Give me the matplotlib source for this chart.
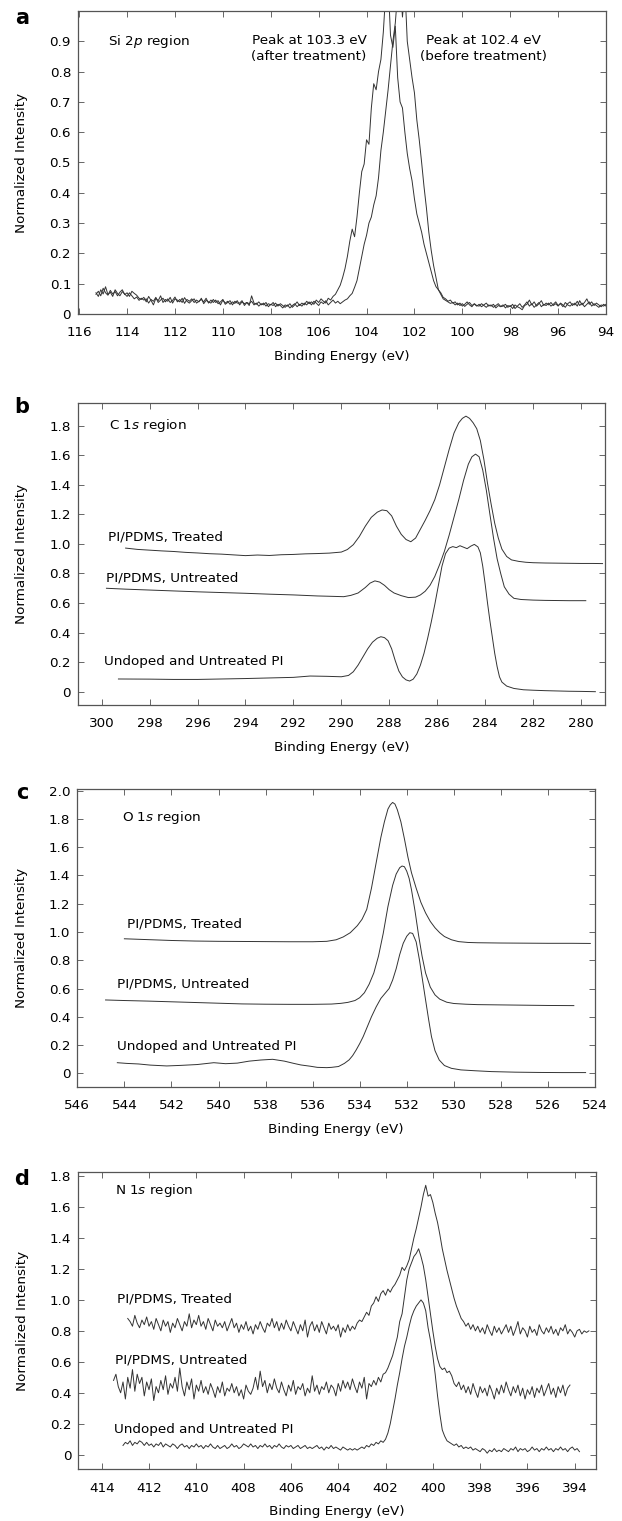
import matplotlib
matplotlib.use('Agg')
import matplotlib.pyplot as plt
import numpy as np
from matplotlib.ticker import FuncFormatter

plt.rcParams['font.family'] = ['DejaVu Sans']
plt.rcParams['mathtext.fontset'] = 'dejavusans'

# ---- (a) Si 2p, 0.1 eV step from 115.3 down to 94.0
si_start, si_stop = 115.3, 94.0
si_after = [
    0.065, 0.075, 0.060, 0.085, 0.070, 0.062, 0.078, 0.066, 0.074, 0.060,
    0.072, 0.080, 0.064, 0.070, 0.058, 0.075, 0.068, 0.062, 0.052, 0.048,
    0.055, 0.040, 0.058, 0.045, 0.030, 0.052, 0.044, 0.060, 0.038, 0.048,
    0.042, 0.055, 0.036, 0.050, 0.046, 0.040, 0.052, 0.035, 0.048, 0.042,
    0.050, 0.038, 0.046, 0.040, 0.052, 0.034, 0.045, 0.040, 0.036, 0.048,
    0.038, 0.044, 0.030, 0.046, 0.036, 0.042, 0.032, 0.040, 0.035, 0.044,
    0.030, 0.040, 0.034, 0.038, 0.028, 0.060, 0.036, 0.032, 0.040, 0.030,
    0.036, 0.026, 0.034, 0.030, 0.038, 0.024, 0.032, 0.028, 0.020, 0.030,
    0.026, 0.034, 0.022, 0.030, 0.040, 0.028, 0.036, 0.030, 0.042, 0.034,
    0.040, 0.032, 0.046, 0.038, 0.050, 0.042, 0.036, 0.052, 0.046, 0.058,
    0.065, 0.080, 0.095, 0.120, 0.150, 0.190, 0.240, 0.280, 0.255, 0.320,
    0.400, 0.470, 0.495, 0.575, 0.560, 0.680, 0.760, 0.740, 0.800, 0.840,
    0.930, 1.060, 1.100, 0.920, 0.880, 0.950, 0.780, 0.700, 0.680, 0.600,
    0.530, 0.480, 0.440, 0.380, 0.330, 0.300, 0.270, 0.230, 0.200, 0.170,
    0.140, 0.110, 0.090, 0.080, 0.065, 0.050, 0.045, 0.040, 0.035, 0.038,
    0.030, 0.036, 0.028, 0.034, 0.025, 0.032, 0.038, 0.028, 0.033, 0.026,
    0.032, 0.024, 0.030, 0.036, 0.026, 0.030, 0.022, 0.028, 0.034, 0.025,
    0.030, 0.020, 0.028, 0.024, 0.032, 0.018, 0.026, 0.034, 0.022, 0.030,
    0.040, 0.026, 0.034, 0.022, 0.030, 0.038, 0.024, 0.032, 0.028, 0.036,
    0.026, 0.032, 0.040, 0.028, 0.034, 0.024, 0.038, 0.030, 0.026, 0.034,
    0.030, 0.042, 0.028, 0.036, 0.024, 0.032, 0.040, 0.026, 0.034, 0.028,
    0.022, 0.030, 0.026, 0.032,
]
si_before = [
    0.070, 0.058, 0.080, 0.066, 0.090, 0.064, 0.072, 0.058, 0.080, 0.068,
    0.060, 0.074, 0.066, 0.058, 0.070, 0.060, 0.050, 0.056, 0.045, 0.052,
    0.046, 0.050, 0.036, 0.048, 0.042, 0.055, 0.038, 0.046, 0.052, 0.040,
    0.050, 0.038, 0.045, 0.056, 0.040, 0.048, 0.038, 0.054, 0.042, 0.036,
    0.044, 0.050, 0.036, 0.042, 0.048, 0.040, 0.052, 0.036, 0.046, 0.038,
    0.046, 0.034, 0.040, 0.048, 0.032, 0.038, 0.044, 0.030, 0.042, 0.036,
    0.036, 0.044, 0.028, 0.038, 0.034, 0.042, 0.030, 0.036, 0.026, 0.034,
    0.030, 0.038, 0.024, 0.032, 0.028, 0.036, 0.026, 0.034, 0.028, 0.022,
    0.030, 0.020, 0.028, 0.034, 0.024, 0.032, 0.026, 0.036, 0.030, 0.040,
    0.030, 0.042, 0.036, 0.028, 0.040, 0.034, 0.044, 0.030, 0.038, 0.046,
    0.036, 0.042, 0.034, 0.040, 0.046, 0.050, 0.060, 0.068, 0.088, 0.110,
    0.150, 0.190, 0.230, 0.260, 0.300, 0.320, 0.360, 0.390, 0.450, 0.540,
    0.600, 0.670, 0.740, 0.820, 0.900, 0.960, 1.060, 1.100, 0.980, 1.080,
    0.900, 0.840, 0.780, 0.730, 0.640, 0.575, 0.500, 0.420, 0.350, 0.270,
    0.210, 0.160, 0.120, 0.080, 0.070, 0.055, 0.050, 0.042, 0.046, 0.036,
    0.040, 0.030, 0.036, 0.026, 0.032, 0.040, 0.030, 0.024, 0.034, 0.028,
    0.026, 0.034, 0.028, 0.022, 0.030, 0.026, 0.032, 0.020, 0.028, 0.024,
    0.026, 0.032, 0.022, 0.028, 0.018, 0.030, 0.024, 0.020, 0.014, 0.028,
    0.032, 0.046, 0.030, 0.040, 0.026, 0.034, 0.044, 0.028, 0.036, 0.030,
    0.038, 0.028, 0.034, 0.026, 0.036, 0.030, 0.022, 0.034, 0.040, 0.028,
    0.036, 0.026, 0.044, 0.030, 0.038, 0.050, 0.032, 0.040, 0.028, 0.036,
    0.030, 0.024, 0.032, 0.026,
]

# ---- (b) C 1s, read point by point
c_treated_x = [299.0, 298.5, 298.0, 297.5, 297.0, 296.5, 296.0, 295.5, 295.0, 294.5,
               294.0, 293.5, 293.0, 292.5, 292.0, 291.5, 291.0, 290.5, 290.0, 289.75,
               289.5, 289.25, 289.0, 288.75, 288.5, 288.3, 288.1, 287.9, 287.7, 287.5,
               287.3, 287.1, 286.9, 286.7, 286.5, 286.3, 286.1, 285.9, 285.7, 285.5,
               285.3, 285.1, 284.95, 284.8, 284.65, 284.5, 284.35, 284.2, 284.05, 283.9,
               283.75, 283.6, 283.45, 283.3, 283.1, 282.9, 282.6, 282.3, 282.0, 281.5,
               281.0, 280.5, 280.0, 279.5, 279.1]
c_treated_y = [0.972, 0.963, 0.958, 0.953, 0.949, 0.943, 0.939, 0.934, 0.931, 0.926,
               0.921, 0.925, 0.922, 0.927, 0.929, 0.933, 0.935, 0.938, 0.945, 0.962,
               0.995, 1.05, 1.12, 1.18, 1.215, 1.23, 1.225, 1.19, 1.12, 1.065,
               1.03, 1.015, 1.04, 1.10, 1.16, 1.225, 1.30, 1.40, 1.52, 1.64,
               1.75, 1.82, 1.85, 1.865, 1.85, 1.82, 1.78, 1.70, 1.57, 1.41,
               1.27, 1.14, 1.04, 0.965, 0.915, 0.892, 0.882, 0.876, 0.873, 0.871,
               0.870, 0.869, 0.868, 0.868, 0.867]
c_untreated_x = [299.8, 299.0, 298.0, 297.0, 296.0, 295.0, 294.0, 293.0, 292.0, 291.0,
                 290.3, 289.9, 289.6, 289.3, 289.0, 288.8, 288.6, 288.4, 288.2, 288.0,
                 287.8, 287.5, 287.2, 286.9, 286.7, 286.5, 286.3, 286.1, 285.9, 285.7,
                 285.5, 285.3, 285.1, 284.9, 284.7, 284.55, 284.4, 284.25, 284.1, 283.95,
                 283.8, 283.65, 283.5, 283.35, 283.2, 283.0, 282.8, 282.5, 282.0, 281.5,
                 281.0, 280.5, 279.8]
c_untreated_y = [0.700, 0.694, 0.688, 0.682, 0.676, 0.671, 0.666, 0.660, 0.655, 0.648,
                 0.645, 0.643, 0.652, 0.668, 0.705, 0.735, 0.750, 0.742, 0.720, 0.690,
                 0.668, 0.650, 0.637, 0.640, 0.655, 0.680, 0.720, 0.780, 0.860, 0.950,
                 1.060, 1.180, 1.300, 1.430, 1.540, 1.590, 1.608, 1.590, 1.500, 1.364,
                 1.200, 1.040, 0.900, 0.800, 0.710, 0.660, 0.632, 0.624, 0.620, 0.618,
                 0.617, 0.616, 0.616]
c_undoped_x = [299.3, 298.0, 297.0, 296.0, 295.0, 294.0, 293.0, 292.0, 291.3, 290.6,
               290.0, 289.7, 289.5, 289.3, 289.1, 288.9, 288.7, 288.5, 288.35, 288.2,
               288.05, 287.9, 287.75, 287.6, 287.45, 287.3, 287.15, 287.0, 286.85, 286.7,
               286.55, 286.4, 286.25, 286.1, 285.95, 285.8, 285.65, 285.5, 285.35, 285.2,
               285.05, 284.9, 284.75, 284.6, 284.45, 284.3, 284.2, 284.1, 284.0, 283.9,
               283.8, 283.7, 283.6, 283.5, 283.4, 283.3, 283.1, 282.8, 282.4, 282.0,
               281.5, 281.0, 280.5, 280.0, 279.4]
c_undoped_y = [0.086, 0.085, 0.083, 0.083, 0.086, 0.089, 0.093, 0.097, 0.106, 0.104,
               0.101, 0.110, 0.135, 0.180, 0.235, 0.290, 0.335, 0.362, 0.372, 0.366,
               0.345, 0.290, 0.210, 0.140, 0.100, 0.080, 0.072, 0.085, 0.120, 0.180,
               0.260, 0.360, 0.470, 0.590, 0.720, 0.850, 0.935, 0.972, 0.982, 0.975,
               0.988, 0.978, 0.968, 0.985, 0.997, 0.980, 0.940, 0.850, 0.730, 0.600,
               0.480, 0.370, 0.260, 0.170, 0.100, 0.065, 0.038, 0.022, 0.013, 0.010,
               0.007, 0.005, 0.003, 0.002, 0.0]

# ---- (c) O 1s
o_treated_x = [544.0, 543.0, 542.0, 541.0, 540.0, 539.0, 538.0, 537.0, 536.0, 535.4,
               535.0, 534.7, 534.4, 534.1, 533.9, 533.7, 533.5, 533.3, 533.1, 532.95,
               532.8, 532.7, 532.6, 532.5, 532.4, 532.25, 532.1, 531.95, 531.8, 531.6,
               531.4, 531.2, 531.0, 530.8, 530.6, 530.4, 530.1, 529.8, 529.4, 529.0,
               528.0, 527.0, 526.0, 525.0, 524.2]
o_treated_y = [0.952, 0.946, 0.940, 0.936, 0.934, 0.933, 0.932, 0.931, 0.931, 0.934,
               0.945, 0.965, 0.995, 1.045, 1.090, 1.160, 1.310, 1.490, 1.670, 1.780,
               1.870, 1.900, 1.917, 1.905, 1.865, 1.780, 1.660, 1.530, 1.420, 1.310,
               1.210, 1.135, 1.075, 1.030, 0.995, 0.968, 0.945, 0.932, 0.926, 0.924,
               0.922, 0.921, 0.920, 0.920, 0.919]
o_untreated_x = [544.8, 544.0, 543.0, 542.0, 541.0, 540.0, 539.0, 538.0, 537.0, 536.0,
                 535.2, 534.8, 534.5, 534.2, 534.0, 533.8, 533.6, 533.4, 533.2, 533.0,
                 532.8, 532.6, 532.45, 532.3, 532.2, 532.1, 532.0, 531.9, 531.8, 531.65,
                 531.5, 531.35, 531.2, 531.0, 530.8, 530.6, 530.3, 530.0, 529.5, 529.0,
                 528.0, 527.0, 526.0, 524.9]
o_untreated_y = [0.519, 0.515, 0.511, 0.506, 0.501, 0.496, 0.491, 0.489, 0.488, 0.488,
                 0.490, 0.495, 0.502, 0.515, 0.535, 0.570, 0.630, 0.710, 0.830, 0.990,
                 1.180, 1.330, 1.410, 1.455, 1.467, 1.462, 1.430, 1.380, 1.300, 1.150,
                 0.980, 0.830, 0.710, 0.610, 0.555, 0.525, 0.503, 0.494, 0.489, 0.486,
                 0.484, 0.482, 0.480, 0.479]
o_undoped_x = [544.3, 543.9, 543.4, 542.9, 542.2, 541.6, 540.9, 540.2, 539.7, 539.2,
               538.7, 538.2, 537.7, 537.2, 536.8, 536.5, 536.1, 535.8, 535.4, 535.2,
               534.9, 534.65, 534.45, 534.3, 534.15, 534.0, 533.85, 533.7, 533.5, 533.3,
               533.1, 532.9, 532.75, 532.6, 532.45, 532.3, 532.15, 532.0, 531.87, 531.75,
               531.6, 531.46, 531.33, 531.2, 531.07, 530.95, 530.8, 530.62, 530.4, 530.1,
               529.7, 529.1, 528.4, 527.4, 526.4, 525.4, 524.4]
o_undoped_y = [0.075, 0.070, 0.066, 0.058, 0.052, 0.056, 0.062, 0.075, 0.068, 0.072,
               0.086, 0.094, 0.099, 0.086, 0.070, 0.059, 0.050, 0.042, 0.040, 0.042,
               0.048, 0.070, 0.095, 0.125, 0.165, 0.210, 0.260, 0.320, 0.400, 0.470,
               0.530, 0.570, 0.600, 0.660, 0.740, 0.840, 0.920, 0.970, 0.995, 0.990,
               0.930, 0.802, 0.660, 0.519, 0.380, 0.260, 0.160, 0.094, 0.055, 0.035,
               0.024, 0.018, 0.012, 0.008, 0.006, 0.005, 0.005]

# ---- (d) N 1s, 0.1 eV step
n_treated_range = (412.9, 393.4)
n_treated = [
    0.88, 0.86, 0.83, 0.90, 0.85, 0.82, 0.87, 0.84, 0.89, 0.83,
    0.86, 0.81, 0.88, 0.84, 0.80, 0.87, 0.83, 0.86, 0.79, 0.85,
    0.82, 0.88, 0.84, 0.80, 0.86, 0.83, 0.91, 0.82, 0.87, 0.84,
    0.90, 0.83, 0.86, 0.81, 0.88, 0.84, 0.80, 0.87, 0.83, 0.85,
    0.82, 0.86, 0.80, 0.84, 0.88, 0.82, 0.85, 0.79, 0.84, 0.81,
    0.86, 0.80, 0.83, 0.78, 0.84, 0.81, 0.86, 0.82, 0.79, 0.85,
    0.83, 0.88, 0.82, 0.86, 0.80, 0.85, 0.81, 0.87, 0.83, 0.80,
    0.86, 0.82, 0.78, 0.84, 0.80, 0.87, 0.76, 0.83, 0.86, 0.80,
    0.84, 0.79, 0.86, 0.82, 0.78, 0.85, 0.81, 0.83, 0.80, 0.84,
    0.76, 0.82, 0.79, 0.84, 0.80, 0.83, 0.81, 0.85, 0.87, 0.86,
    0.89, 0.92, 0.90, 0.96, 0.98, 1.02, 0.99, 1.04, 1.06, 1.03,
    1.07, 1.05, 1.08, 1.10, 1.13, 1.16, 1.21, 1.19, 1.22, 1.26,
    1.33, 1.40, 1.46, 1.53, 1.60, 1.68, 1.74, 1.67, 1.68, 1.63,
    1.56, 1.50, 1.42, 1.33, 1.26, 1.19, 1.13, 1.07, 1.01, 0.96,
    0.92, 0.88, 0.86, 0.83, 0.85, 0.81, 0.84, 0.80, 0.83, 0.79,
    0.82, 0.78, 0.84, 0.80, 0.77, 0.83, 0.79, 0.82, 0.78, 0.81,
    0.84, 0.79, 0.83, 0.77, 0.81, 0.86, 0.78, 0.82, 0.80, 0.76,
    0.83, 0.79, 0.81, 0.77, 0.84, 0.80, 0.78, 0.82, 0.79, 0.83,
    0.78, 0.81, 0.77, 0.82, 0.80, 0.84, 0.78, 0.81, 0.79, 0.76,
    0.80, 0.81, 0.78, 0.80, 0.79, 0.80,
]
n_untreated_range = (413.5, 394.2)
n_untreated = [
    0.48, 0.52, 0.44, 0.40, 0.47, 0.36, 0.50, 0.43, 0.55, 0.41,
    0.52, 0.46, 0.50, 0.38, 0.47, 0.42, 0.49, 0.35, 0.44, 0.40,
    0.48, 0.42, 0.51, 0.39, 0.46, 0.43, 0.50, 0.41, 0.56, 0.44,
    0.38, 0.47, 0.42, 0.49, 0.36, 0.45, 0.41, 0.48, 0.40, 0.44,
    0.39, 0.46, 0.42, 0.37, 0.44, 0.40, 0.47, 0.38, 0.43, 0.41,
    0.46, 0.40, 0.44, 0.38, 0.42, 0.36, 0.45, 0.41, 0.39, 0.43,
    0.50, 0.42, 0.54, 0.44, 0.48, 0.40, 0.46, 0.42, 0.49, 0.43,
    0.40, 0.47, 0.42, 0.38, 0.45, 0.41, 0.48, 0.39, 0.44, 0.42,
    0.46, 0.38, 0.43, 0.40, 0.51, 0.41, 0.45, 0.39, 0.44, 0.42,
    0.47, 0.40, 0.45, 0.43, 0.38, 0.46, 0.41, 0.48, 0.43, 0.47,
    0.42, 0.49, 0.44, 0.40, 0.47, 0.43, 0.50, 0.36, 0.46, 0.44,
    0.48, 0.45, 0.50, 0.47, 0.52, 0.53, 0.56, 0.60, 0.64, 0.70,
    0.76, 0.86, 0.91, 1.02, 1.13, 1.20, 1.24, 1.28, 1.30, 1.33,
    1.28, 1.22, 1.13, 1.02, 0.91, 0.80, 0.70, 0.62, 0.57, 0.55,
    0.56, 0.53, 0.54, 0.51, 0.46, 0.44, 0.47, 0.42, 0.45, 0.40,
    0.44, 0.39, 0.46, 0.41, 0.37, 0.44, 0.40, 0.43, 0.38, 0.45,
    0.41, 0.36, 0.43, 0.39, 0.45, 0.40, 0.47, 0.42, 0.38, 0.44,
    0.40, 0.45, 0.38, 0.43, 0.36, 0.42, 0.39, 0.44, 0.37, 0.43,
    0.40, 0.45, 0.38, 0.42, 0.46, 0.39, 0.43, 0.37, 0.44, 0.40,
    0.45, 0.38, 0.43, 0.45,
]
n_undoped_range = (413.1, 393.8)
n_undoped = [
    0.06, 0.08, 0.07, 0.09, 0.06, 0.08, 0.07, 0.09, 0.08, 0.06,
    0.08, 0.06, 0.07, 0.05, 0.07, 0.06, 0.08, 0.05, 0.07, 0.06,
    0.05, 0.07, 0.06, 0.04, 0.06, 0.07, 0.05, 0.06, 0.04, 0.06,
    0.05, 0.07, 0.05, 0.06, 0.04, 0.06, 0.05, 0.07, 0.05, 0.04,
    0.06, 0.04, 0.05, 0.06, 0.04, 0.05, 0.07, 0.05, 0.06, 0.04,
    0.05, 0.07, 0.06, 0.05, 0.07, 0.05, 0.06, 0.04, 0.06, 0.05,
    0.07, 0.05, 0.06, 0.04, 0.06, 0.05, 0.07, 0.05, 0.04, 0.06,
    0.05, 0.06, 0.04, 0.05, 0.06, 0.04, 0.05, 0.06, 0.04, 0.05,
    0.04, 0.05, 0.06, 0.04, 0.05, 0.03, 0.05, 0.04, 0.06, 0.04,
    0.05, 0.04, 0.03, 0.05, 0.04, 0.03, 0.04, 0.03, 0.04, 0.03,
    0.04, 0.05, 0.04, 0.06, 0.05, 0.07, 0.06, 0.08, 0.07, 0.09,
    0.08, 0.10, 0.14, 0.20, 0.28, 0.36, 0.45, 0.53, 0.62, 0.70,
    0.76, 0.83, 0.89, 0.93, 0.96, 0.98, 1.00, 0.98, 0.93, 0.82,
    0.74, 0.64, 0.52, 0.38, 0.26, 0.16, 0.12, 0.09, 0.08, 0.07,
    0.06, 0.07, 0.05, 0.06, 0.04, 0.05, 0.04, 0.05, 0.03, 0.04,
    0.03, 0.02, 0.04, 0.03, 0.01, 0.03, 0.02, 0.04, 0.02, 0.03,
    0.02, 0.04, 0.03, 0.02, 0.04, 0.03, 0.05, 0.02, 0.04, 0.03,
    0.04, 0.02, 0.03, 0.05, 0.03, 0.04, 0.02, 0.04, 0.03, 0.05,
    0.03, 0.04, 0.02, 0.04, 0.03, 0.05, 0.03, 0.04, 0.02, 0.04,
    0.05, 0.03, 0.04, 0.02,
]

LINE = '#333333'
FS = 9.7


def yfmt(v, pos):
    return '0' if abs(v) < 1e-9 else '%.1f' % v


def style_axes(ax, xlim, ylim, xticks, yticks):
    ax.set_xlim(*xlim)
    ax.set_ylim(*ylim)
    ax.set_xticks(xticks)
    ax.set_yticks(yticks)
    ax.yaxis.set_major_formatter(FuncFormatter(yfmt))
    ax.tick_params(direction='in', length=4, width=0.7, color='#666666',
                   top=True, right=True, labelsize=FS)
    ax.tick_params(axis='x', pad=9)
    ax.tick_params(axis='y', pad=5)
    for s in ax.spines.values():
        s.set_color('#555555')
        s.set_linewidth(0.9)
    ax.set_xlabel('Binding Energy (eV)', fontsize=FS)
    ax.set_ylabel('Normalized Intensity', fontsize=FS)
    ax.xaxis.set_label_coords(0.5, -0.12)
    ax.yaxis.set_label_coords(-0.095, 0.5)


def labels(ax, pos):
    # pos: list of (x, y, text)
    for x, y, t in pos:
        ax.text(x, y, t, fontsize=FS, ha='left', va='center')


def main():
    fig = plt.figure(figsize=(6.22, 15.21), dpi=100)

    # (a)
    ax = fig.add_axes([0.1254, 0.79356, 0.8489, 0.19921])
    x = np.linspace(si_start, si_stop, len(si_after))
    ax.plot(x, si_after, color=LINE, lw=0.7)
    x = np.linspace(si_start, si_stop, len(si_before))
    ax.plot(x, si_before, color=LINE, lw=0.7)
    style_axes(ax, (116.05, 94.0), (0, 1.0), np.arange(116, 93, -2), np.arange(0, 0.95, 0.1))
    ax.text(114.8, 0.9, 'Si 2$\\it{p}$ region', fontsize=FS, ha='left', va='center')
    ax.text(106.4, 0.875, 'Peak at 103.3 eV\n(after treatment)', fontsize=FS,
            ha='center', va='center', linespacing=1.3)
    ax.text(99.1, 0.875, 'Peak at 102.4 eV\n(before treatment)', fontsize=FS,
            ha='center', va='center', linespacing=1.3)

    # (b)
    ax = fig.add_axes([0.1249, 0.53669, 0.8477, 0.19855])
    ax.plot(c_treated_x, c_treated_y, color=LINE, lw=0.7)
    ax.plot(c_untreated_x, c_untreated_y, color=LINE, lw=0.7)
    ax.plot(c_undoped_x, c_undoped_y, color=LINE, lw=0.7)
    style_axes(ax, (301.0, 279.0), (-0.088, 1.956), np.arange(300, 279, -2), np.arange(0, 1.9, 0.2))
    labels(ax, [(299.7, 1.8, 'C 1$\\it{s}$ region'),
                (299.75, 1.05, 'PI/PDMS, Treated'),
                (299.8, 0.767, 'PI/PDMS, Untreated'),
                (299.9, 0.205, 'Undoped and Untreated PI')])

    # (c)
    ax = fig.add_axes([0.1243, 0.28534, 0.8323, 0.19573])
    ax.plot(o_treated_x, o_treated_y, color=LINE, lw=0.7)
    ax.plot(o_untreated_x, o_untreated_y, color=LINE, lw=0.7)
    ax.plot(o_undoped_x, o_undoped_y, color=LINE, lw=0.7)
    style_axes(ax, (546, 524), (-0.097, 2.01), np.arange(546, 523, -2), np.arange(0, 2.05, 0.2))
    labels(ax, [(544.1, 1.81, 'O 1$\\it{s}$ region'),
                (543.9, 1.06, 'PI/PDMS, Treated'),
                (544.3, 0.632, 'PI/PDMS, Untreated'),
                (544.3, 0.188, 'Undoped and Untreated PI')])

    # (d)
    ax = fig.add_axes([0.1259, 0.03399, 0.8323, 0.19527])
    for rng, vals in [(n_treated_range, n_treated), (n_untreated_range, n_untreated),
                      (n_undoped_range, n_undoped)]:
        x = np.linspace(rng[0], rng[1], len(vals))
        ax.plot(x, vals, color=LINE, lw=0.7)
    style_axes(ax, (414.99, 393.1), (-0.094, 1.824), np.arange(414, 393, -2), np.arange(0, 1.85, 0.2))
    labels(ax, [(413.45, 1.705, 'N 1$\\it{s}$ region'),
                (413.35, 1.005, 'PI/PDMS, Treated'),
                (413.45, 0.613, 'PI/PDMS, Untreated'),
                (413.5, 0.161, 'Undoped and Untreated PI')])

    # panel letters
    for lab, ypx in [('a', 18), ('b', 407), ('c', 793), ('d', 1179)]:
        fig.text(22 / 622, 1 - ypx / 1521, lab, fontsize=15, fontweight='bold',
                 ha='center', va='center')

    fig.savefig('out.png', dpi=100)


if __name__ == '__main__':
    main()
